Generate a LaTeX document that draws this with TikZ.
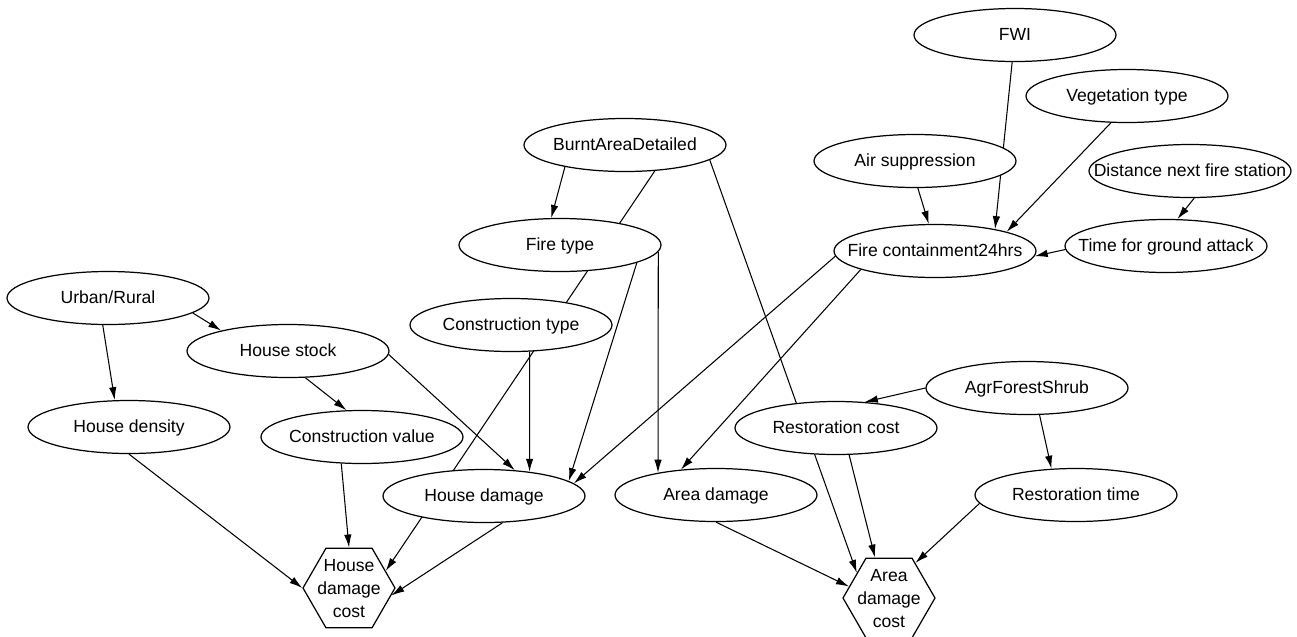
\documentclass[tikz,border=0pt]{standalone}
\usepackage{fontspec}
\setmainfont{Liberation Sans}
\usetikzlibrary{shapes.geometric,arrows.meta,backgrounds}

\newcommand{\ovl}[1]{\makebox[0pt]{#1}}
\newcommand{\hexl}[1]{\makebox[0pt]{\smash{\raisebox{-1.2mm}{\renewcommand{\arraystretch}{1.1}\begin{tabular}{@{}c@{}}#1\end{tabular}}}}}

\begin{document}
\begin{tikzpicture}[
varnode/.style={ellipse, draw=black, fill=white, line width=0.7pt, minimum width=4.04cm, minimum height=1.06cm, inner sep=0pt, text height=1.6ex, text depth=0.4ex},
costnode/.style={regular polygon, regular polygon sides=6, draw=black, fill=white, line width=0.7pt, minimum size=1.84cm, inner sep=0pt},
link/.style={-{Latex[length=2.6mm,width=1.5mm]}, line width=0.6pt}
]
\useasboundingbox (0,0) rectangle (25.94,-12.72);

\node [varnode] (fwi) at (20.30,-0.70) {\ovl{FWI}};
    \node [varnode] (vegtype) at (22.54,-1.92) {\ovl{Vegetation type}};
    \node [varnode] (airsupp) at (18.30,-3.22) {\ovl{Air suppression}};
    \node [varnode] (distfire) at (23.80,-3.42) {\ovl{Distance next fire station}};
    \node [varnode] (ground) at (23.32,-4.92) {\ovl{Time for ground attack}};
    \node [varnode] (contain) at (18.70,-5.02) {\ovl{Fire containment24hrs}};

    \node [varnode] (burnt) at (12.50,-2.90) {\ovl{BurntAreaDetailed}};
    \node [varnode] (firetype) at (11.20,-4.90) {\ovl{Fire type}};
    \node [varnode] (constype) at (10.22,-6.50) {\ovl{Construction type}};

    \node [varnode] (urban) at (2.16,-5.96) {\ovl{Urban/Rural}};
    \node [varnode] (stock) at (5.76,-7.02) {\ovl{House stock}};
    \node [varnode] (density) at (2.58,-8.54) {\ovl{House density}};
    \node [varnode] (consval) at (7.24,-8.74) {\ovl{Construction value}};
    \node [varnode] (hdamage) at (9.68,-9.92) {\ovl{House damage}};

    \node [varnode] (adamage) at (14.32,-9.90) {\ovl{Area damage}};
    \node [varnode] (restcost) at (16.72,-8.56) {\ovl{Restoration cost}};
    \node [varnode] (agr) at (20.54,-7.76) {\ovl{AgrForestShrub}};
    \node [varnode] (resttime) at (21.52,-9.90) {\ovl{Restoration time}};

    \node [costnode] (hcost) at (6.98,-11.76) {\hexl{House\\damage\\cost}};
    \node [costnode] (acost) at (17.78,-11.96) {\hexl{Area\\damage\\cost}};

    \begin{pgfonlayer}{background}
    \draw[link] (burnt.200) -- (firetype.108);
    \draw[link] (burnt.-41) -- (hcost.25);
    \draw[link] (burnt.-10) -- (acost.142);
    \draw[link] (firetype.-13) -- (hdamage.10);
    \draw[link] (firetype.-4) -- (adamage.159);
    \draw[link] (constype.-55) -- (hdamage.28);
    \draw[link] (stock.-2) -- (hdamage.40);
    \draw[link] (stock.-57) -- (consval.120);
    \draw[link] (urban.-10) -- (stock.163);
    \draw[link] (urban.-101) -- (density.118);
    \draw[link] (density.-90) -- (hcost.180);
    \draw[link] (consval.-128) -- (hcost.90);
    \draw[link] (hdamage.-55) -- (hcost.-10);
    \draw[link] (contain.183) -- (hdamage.8);
    \draw[link] (contain.194) -- (adamage.144);
    \draw[link] (airsupp.-84) -- (contain.103);
    \draw[link] (fwi.-96) -- (contain.20);
    \draw[link] (vegtype.-121) -- (contain.15);
    \draw[link] (distfire.-81) -- (ground.67);
    \draw[link] (ground.182) -- (contain.-3);
    \draw[link] (agr.180) -- (restcost.42);
    \draw[link] (agr.-65) -- (resttime.133);
    \draw[link] (resttime.185) -- (acost.53);
    \draw[link] (restcost.-64) -- (acost.109);
    \draw[link] (adamage.-90) -- (acost.164);
    \end{pgfonlayer}
    \end{tikzpicture}
\end{document}
